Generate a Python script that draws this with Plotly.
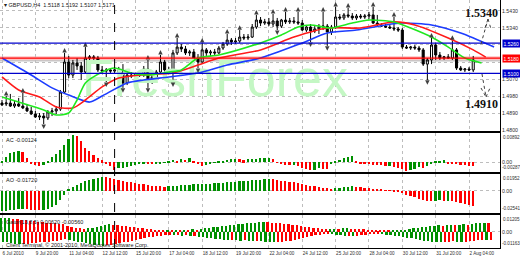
import plotly.graph_objects as go

# ---------------- data ----------------
symbol = "GBPUSD,H4"
date_labels = ["6 Jul 2010", "9 Jul 20:00", "11 Jul 04:00", "12 Jul 12:00", "15 Jul 20:00",
               "17 Jul 04:00", "18 Jul 12:00", "19 Jul 20:00", "22 Jul 04:00", "24 Jul 12:00",
               "25 Jul 20:00", "28 Jul 04:00", "30 Jul 12:00", "31 Jul 20:00", "2 Aug 04:00"]
label_step = 8

opens = [1.4943,1.4938,1.4943,1.4927,1.4938,1.4927,1.4917,1.4901,1.4885,1.4869,
1.4874,1.4864,1.4896,1.4901,1.4911,1.5001,1.5160,1.5091,1.5155,1.5139,
1.5107,1.5181,1.5187,1.5181,1.5118,1.5112,1.5118,1.5112,1.5118,1.5107,
1.5049,1.5091,1.5086,1.5097,1.5091,1.5123,1.5054,1.5081,1.5107,1.5160,
1.5118,1.5107,1.5208,1.5239,1.5229,1.5208,1.5213,1.5181,1.5160,1.5224,
1.5208,1.5213,1.5208,1.5234,1.5255,1.5276,1.5266,1.5271,1.5292,1.5287,
1.5292,1.5345,1.5382,1.5366,1.5372,1.5361,1.5377,1.5350,1.5382,1.5372,
1.5377,1.5372,1.5366,1.5329,1.5345,1.5324,1.5335,1.5345,1.5350,1.5319,
1.5345,1.5398,1.5393,1.5409,1.5403,1.5393,1.5403,1.5398,1.5403,1.5409,
1.5366,1.5356,1.5350,1.5345,1.5340,1.5335,1.5329,1.5239,1.5234,1.5239,
1.5234,1.5224,1.5149,1.5171,1.5250,1.5197,1.5181,1.5187,1.5181,1.5224,
1.5128,1.5118,1.5123,1.5118]
highs = [1.4959,1.4980,1.4991,1.4959,1.4970,1.4996,1.4938,1.4922,1.4901,1.4890,
1.4890,1.4906,1.4917,1.4927,1.5012,1.5208,1.5192,1.5171,1.5181,1.5160,
1.5239,1.5197,1.5197,1.5192,1.5139,1.5128,1.5128,1.5128,1.5134,1.5149,
1.5107,1.5107,1.5102,1.5112,1.5139,1.5171,1.5097,1.5118,1.5197,1.5171,
1.5134,1.5224,1.5287,1.5255,1.5245,1.5224,1.5229,1.5202,1.5261,1.5234,
1.5224,1.5229,1.5245,1.5266,1.5308,1.5287,1.5287,1.5329,1.5308,1.5308,
1.5361,1.5409,1.5398,1.5388,1.5393,1.5414,1.5393,1.5388,1.5425,1.5393,
1.5398,1.5425,1.5382,1.5356,1.5361,1.5350,1.5361,1.5425,1.5361,1.5356,
1.5451,1.5414,1.5419,1.5446,1.5419,1.5414,1.5414,1.5414,1.5425,1.5451,
1.5409,1.5366,1.5361,1.5356,1.5398,1.5345,1.5340,1.5250,1.5245,1.5250,
1.5245,1.5234,1.5181,1.5287,1.5261,1.5213,1.5192,1.5202,1.5276,1.5234,
1.5139,1.5128,1.5134,1.5192]
lows = [1.4927,1.4927,1.4922,1.4917,1.4922,1.4911,1.4896,1.4880,1.4864,1.4853,
1.4832,1.4853,1.4874,1.4885,1.4901,1.4991,1.5075,1.5075,1.5118,1.5065,
1.5097,1.5160,1.5171,1.5107,1.5102,1.5054,1.5102,1.5097,1.5102,1.5023,
1.5038,1.5075,1.5075,1.5081,1.5081,1.5023,1.5044,1.5070,1.5097,1.5102,
1.5097,1.5054,1.5197,1.5213,1.5197,1.5192,1.5171,1.5128,1.5155,1.5192,
1.5192,1.5197,1.5202,1.5224,1.5245,1.5250,1.5255,1.5261,1.5276,1.5276,
1.5287,1.5335,1.5350,1.5356,1.5350,1.5345,1.5329,1.5340,1.5361,1.5361,
1.5361,1.5356,1.5324,1.5319,1.5266,1.5313,1.5308,1.5329,1.5245,1.5303,
1.5335,1.5382,1.5382,1.5393,1.5382,1.5382,1.5388,1.5388,1.5388,1.5361,
1.5350,1.5345,1.5340,1.5335,1.5324,1.5319,1.5229,1.5229,1.5224,1.5224,
1.5213,1.5139,1.5065,1.5149,1.5171,1.5171,1.5171,1.5176,1.5171,1.5118,
1.5112,1.5107,1.5112,1.5107]
closes = [1.4933,1.4943,1.4927,1.4938,1.4927,1.4917,1.4901,1.4885,1.4869,1.4874,
1.4864,1.4896,1.4901,1.4911,1.5001,1.5160,1.5091,1.5155,1.5139,1.5107,
1.5181,1.5187,1.5181,1.5118,1.5112,1.5118,1.5112,1.5118,1.5107,1.5049,
1.5091,1.5086,1.5097,1.5091,1.5123,1.5054,1.5081,1.5107,1.5160,1.5118,
1.5107,1.5208,1.5239,1.5229,1.5208,1.5213,1.5181,1.5160,1.5224,1.5208,
1.5213,1.5208,1.5234,1.5255,1.5276,1.5266,1.5271,1.5292,1.5287,1.5292,
1.5345,1.5382,1.5366,1.5372,1.5361,1.5377,1.5350,1.5382,1.5372,1.5377,
1.5372,1.5366,1.5329,1.5345,1.5324,1.5335,1.5345,1.5350,1.5319,1.5345,
1.5398,1.5393,1.5409,1.5403,1.5393,1.5403,1.5398,1.5403,1.5409,1.5366,
1.5356,1.5350,1.5345,1.5340,1.5335,1.5329,1.5239,1.5234,1.5239,1.5234,
1.5224,1.5149,1.5171,1.5250,1.5197,1.5181,1.5187,1.5181,1.5224,1.5128,
1.5118,1.5123,1.5118,1.5171]

fractal_up = [1,5,15,20,35,38,42,48,54,57,61,65,68,71,77,80,83,89,94,103,108]
fractal_down = [10,25,29,35,41,47,66,74,78,102]

# Alligator lines (bar index, price)
jaw_idx = [0,7,12,16,21,24,30,34,40,47,54,62,72,78,85,92,96,103,110,118]
jaw_val = [1.5181,1.5091,1.5023,1.4985,1.4948,1.4980,1.5049,1.5065,1.5081,1.5102,
           1.5144,1.5181,1.5261,1.5313,1.5329,1.5356,1.5366,1.5356,1.5313,1.5239]
teeth_idx = [0,4,9,13,17,20,24,28,33,41,47,52,62,70,78,86,94,99,107,113,116]
teeth_val = [1.5081,1.5012,1.4975,1.4922,1.4917,1.4959,1.5028,1.5075,1.5091,1.5102,
             1.5144,1.5181,1.5224,1.5292,1.5340,1.5340,1.5372,1.5356,1.5287,1.5224,1.5186]
lips_idx = [0,4,10,13,16,18,20,24,27,31,35,40,43,47,52,62,67,71,74,79,84,88,94,98,103,107,111,115]
lips_val = [1.4975,1.4948,1.4906,1.4880,1.4890,1.4959,1.5049,1.5107,1.5128,1.5102,
            1.5091,1.5107,1.5118,1.5181,1.5197,1.5261,1.5303,1.5345,1.5356,1.5340,
            1.5366,1.5382,1.5372,1.5340,1.5292,1.5239,1.5181,1.5155]

levels = [1.5260, 1.5180, 1.5100]
level_colors = ["#0000cc", "#ff0000", "#0000cc"]
targets = [1.5340, 1.4910]

price_ticks = [1.5430, 1.5340, 1.5250, 1.5160, 1.5070, 1.4980, 1.4890, 1.4800]

ac_vals = [0.0003,0.0018,0.0029,0.0031,0.0034,0.0031,0.0013,-0.0004,-0.0007,-0.0010,
 -0.0007,0.0003,0.0018,0.0026,0.0039,0.0054,0.0070,0.0082,0.0081,0.0065,
 0.0045,0.0034,0.0024,0.0013,0.0006,-0.0005,-0.0012,-0.0023,-0.0018,-0.0017,
 -0.0015,-0.0012,-0.0009,-0.0005,-0.0002,-0.0005,-0.0006,-0.0003,-0.0002,-0.0001,
 0.0003,0.0007,0.0005,0.0011,0.0008,0.0012,0.0003,-0.0004,-0.0010,-0.0007,
 -0.0003,-0.0001,0.0003,0.0005,0.0008,0.0009,0.0010,0.0009,0.0006,0.0009,
 0.0010,0.0011,0.0012,0.0013,0.0014,0.0010,-0.0001,-0.0005,-0.0008,-0.0009,
 -0.0008,-0.0012,-0.0017,-0.0021,-0.0023,-0.0022,-0.0018,-0.0020,-0.0021,-0.0006,
 0.0004,0.0008,0.0012,0.0018,0.0020,0.0004,-0.0003,-0.0005,-0.0006,-0.0007,
 -0.0008,-0.0009,-0.0011,-0.0010,-0.0013,-0.0016,-0.0020,-0.0025,-0.0023,-0.0019,
 -0.0014,-0.0018,-0.0010,-0.0003,0.0002,0.0004,0.0006,-0.0003,-0.0005,-0.0006,
 -0.0008,-0.0009,-0.0010,-0.00124]
ac_ticks = [0.00892, 0.0, -0.00287]

ao_vals = [-0.0235,-0.0230,-0.0222,-0.0215,-0.0210,-0.0208,-0.0212,-0.0218,-0.0222,-0.0224,
 -0.0218,-0.0210,-0.0190,-0.0160,-0.0110,-0.0045,0.0015,0.0040,0.0065,0.0090,
 0.0110,0.0128,0.0142,0.0152,0.0160,0.0158,0.0150,0.0140,0.0128,0.0118,
 0.0108,0.0098,0.0090,0.0082,0.0075,0.0068,0.0062,0.0057,0.0053,0.0050,
 0.0052,0.0058,0.0062,0.0066,0.0070,0.0073,0.0076,0.0078,0.0080,0.0083,
 0.0085,0.0088,0.0092,0.0096,0.0100,0.0104,0.0108,0.0112,0.0115,0.0118,
 0.0122,0.0126,0.0130,0.0134,0.0137,0.0135,0.0128,0.0120,0.0112,0.0105,
 0.0098,0.0090,0.0082,0.0072,0.0062,0.0052,0.0043,0.0035,0.0030,0.0026,
 0.0030,0.0036,0.0042,0.0048,0.0052,0.0048,0.0043,0.0038,0.0033,0.0028,
 0.0022,0.0016,0.0010,0.0004,-0.0004,-0.0014,-0.0028,-0.0045,-0.0060,-0.0075,
 -0.0090,-0.0105,-0.0112,-0.0115,-0.0113,-0.0110,-0.0114,-0.0112,-0.0115,-0.0125,
 -0.0140,-0.0155,-0.0165,-0.0172]
ao_ticks = [0.01952, 0.0, -0.02541]

gator_upper_pips = [98,98,98,95,91,88,84,81,77,74,
70,67,63,60,56,53,42,35,28,25,
21,25,28,35,42,49,53,49,46,42,
39,35,32,28,25,21,18,14,13,11,
13,11,14,13,15,14,18,15,21,25,
28,32,35,39,42,46,49,53,56,60,
63,67,70,74,70,67,63,60,56,53,
49,46,39,35,32,28,25,21,18,20,
22,21,24,25,23,21,19,17,15,13,
11,8,7,6,7,9,12,15,20,24,
28,32,36,41,43,46,43,48,50,48,
51,55,52,56,60,63,66,62]
gator_lower_pips = [70,77,84,88,91,90,88,84,81,77,
74,70,67,63,56,49,56,63,70,77,
84,91,95,98,102,98,95,91,84,77,
70,63,56,49,42,39,35,32,28,25,
21,25,21,28,25,32,28,35,39,42,
46,49,53,56,60,56,60,63,60,63,
67,63,67,70,74,77,74,70,67,63,
56,49,42,35,28,25,21,18,14,18,
21,25,28,27,29,27,24,21,18,15,
14,17,20,22,27,32,36,42,48,53,
57,63,67,71,76,77,74,70,67,70,
74,70,67,63,60,56,60,56]
gator_ticks = [0.01205, 0.0, -0.01163]

# ---------------- styling helpers ----------------
GREEN = "#009000"
RED = "#ff0000"
FONT = "Liberation Sans, Arial, sans-serif"

def trend_colors(vals, use_abs=False):
    out = []
    for k, v in enumerate(vals):
        a = abs(v) if use_abs else v
        p = (abs(vals[k - 1]) if use_abs else vals[k - 1]) if k > 0 else None
        out.append(GREEN if (p is None or a >= p) else RED)
    return out

N = len(closes)
idx = list(range(N))
x_range = [-0.48, 119.42]
main_range = [1.4795, 1.5488]

gator_upper = [p * 1e-4 for p in gator_upper_pips]
gator_lower = [-p * 1e-4 for p in gator_lower_pips]
gidx = list(range(len(gator_upper)))

fig = go.Figure()

# watermark (behind everything)
fig.add_trace(go.Scatter(
    x=[x_range[0] + 0.43 * (x_range[1] - x_range[0])],
    y=[main_range[0] + 0.37 * (main_range[1] - main_range[0])],
    mode="text", text=["FreshForex"],
    textfont=dict(size=52, color="#c4f7c4", family=FONT),
    hoverinfo="skip", showlegend=False, xaxis="x", yaxis="y"))

# alligator
for xs, ys, col in [(jaw_idx, jaw_val, "#1c3cff"), (teeth_idx, teeth_val, "#ff1a1a"), (lips_idx, lips_val, "#1fe81f")]:
    fig.add_trace(go.Scatter(x=xs, y=ys, mode="lines",
                             line=dict(color=col, width=1.6, shape="spline", smoothing=0.7),
                             hoverinfo="skip", showlegend=False, xaxis="x", yaxis="y"))

# candles
fig.add_trace(go.Candlestick(
    x=idx, open=opens, high=highs, low=lows, close=closes,
    increasing=dict(line=dict(color="black", width=1), fillcolor="white"),
    decreasing=dict(line=dict(color="black", width=1), fillcolor="black"),
    whiskerwidth=0, showlegend=False, xaxis="x", yaxis="y"))

# fractals
frac_offset = 0.0026
fig.add_trace(go.Scatter(
    x=fractal_up, y=[highs[i] + frac_offset for i in fractal_up], mode="markers",
    marker=dict(symbol="arrow-up", size=4.5, color="#404040"),
    showlegend=False, hoverinfo="skip", xaxis="x", yaxis="y"))
fig.add_trace(go.Scatter(
    x=fractal_down, y=[lows[i] - frac_offset for i in fractal_down], mode="markers",
    marker=dict(symbol="arrow-down", size=4.5, color="#404040"),
    showlegend=False, hoverinfo="skip", xaxis="x", yaxis="y"))

# AC
fig.add_trace(go.Bar(x=idx, y=ac_vals, marker=dict(color=trend_colors(ac_vals), line=dict(width=0)),
                     width=0.42, showlegend=False, xaxis="x2", yaxis="y2"))
# AO
fig.add_trace(go.Bar(x=idx, y=ao_vals, marker=dict(color=trend_colors(ao_vals), line=dict(width=0)),
                     width=0.42, showlegend=False, xaxis="x3", yaxis="y3"))
# Gator
fig.add_trace(go.Bar(x=gidx, y=gator_upper, marker=dict(color=trend_colors(gator_upper), line=dict(width=0)),
                     width=0.42, showlegend=False, xaxis="x4", yaxis="y4"))
fig.add_trace(go.Bar(x=gidx, y=gator_lower, marker=dict(color=trend_colors(gator_lower, True), line=dict(width=0)),
                     width=0.42, showlegend=False, xaxis="x4", yaxis="y4"))

# ---------------- axes ----------------
tick_font = dict(size=5.2, color="#303030", family=FONT)
small_font = dict(size=4.6, color="#303030", family=FONT)
xtickvals = [k * label_step for k in range(len(date_labels))]

def xaxis(anchor, show_labels):
    return dict(range=x_range, anchor=anchor, domain=[0, 1],
                tickvals=xtickvals, ticktext=date_labels, tickangle=0,
                showticklabels=show_labels, ticks="",
                showgrid=True, gridcolor="#bdbdbd", griddash="dot", gridwidth=1,
                showline=True, mirror=True, linecolor="#000000", linewidth=1,
                zeroline=False, tickfont=dict(size=4.6, color="#303030", family=FONT),
                ticklabelposition="outside right", rangeslider=dict(visible=False),
                fixedrange=True)

def yaxis(anchor, domain, rng, tvals, ttext):
    return dict(range=rng, anchor=anchor, domain=domain, side="right",
                tickvals=tvals, ticktext=ttext, ticks="",
                showgrid=True, gridcolor="#bdbdbd", griddash="dot", gridwidth=1,
                showline=True, linecolor="#000000", linewidth=1, zeroline=False,
                tickfont=tick_font, fixedrange=True)

fmt5 = lambda v: "0.00" if v == 0 else f"{v:.5f}"
# labels hidden behind the level boxes
price_text = ["" if any(abs(v - lv) < 0.0025 for lv in levels[:2]) else f"{v:.4f}" for v in price_ticks]

fig.update_layout(
    width=520, height=260, margin=dict(l=0, r=20, t=0, b=12),
    paper_bgcolor="white", plot_bgcolor="white", bargap=0,
    font=dict(family=FONT),
    xaxis=xaxis("y", False), xaxis2=xaxis("y2", False),
    xaxis3=xaxis("y3", False), xaxis4=xaxis("y4", True),
    yaxis=yaxis("x", [0.4718, 1.0], main_range, price_ticks, price_text),
    yaxis2=yaxis("x2", [0.3065, 0.4637], [-0.00292, 0.00896], [0.0], ["0.00"]),
    yaxis3=yaxis("x3", [0.1411, 0.2984], [-0.02548, 0.01958], [0.0], ["0.00"]),
    yaxis4=yaxis("x4", [0.0, 0.1331], [-0.01168, 0.01210], [0.0], ["0.00"]),
)

# ---------------- shapes ----------------
shapes = []
shapes.append(dict(type="line", xref="x domain", yref="y", x0=0, x1=1, y0=levels[1], y1=levels[1],
                   line=dict(color="rgba(255,120,120,0.45)", width=4), layer="below"))
shapes.append(dict(type="line", xref="x domain", yref="y", x0=0, x1=1, y0=closes[-1] - 0.0005, y1=closes[-1] - 0.0005,
                   line=dict(color="#b0b0b0", width=1), layer="below"))
for lv, col in zip(levels, level_colors):
    shapes.append(dict(type="line", xref="x domain", yref="y", x0=0, x1=1, y0=lv, y1=lv,
                       line=dict(color=col, width=1.3)))
shapes.append(dict(type="line", xref="x", yref="paper", x0=27, x1=27, y0=0, y1=1,
                   line=dict(color="black", width=1, dash="dash")))
def pp(px, py):
    return px / 500.0, 1 - py / 248.0
for (a, b) in [((481, 44), (488, 19)), ((485, 28), (488, 19)), ((488, 19), (491, 29)),
               ((482, 74), (486, 97)), ((481, 88), (486, 97)), ((486, 97), (490, 88))]:
    x0, y0 = pp(*a); x1, y1 = pp(*b)
    shapes.append(dict(type="line", xref="paper", yref="paper", x0=x0, y0=y0, x1=x1, y1=y1,
                       line=dict(color="#404040", width=1, dash="dot")))
fig.update_layout(shapes=shapes)

# ---------------- annotations ----------------
ann = []
ann.append(dict(xref="paper", yref="paper", x=0.004, y=1 - 5 / 248.0, xanchor="left", yanchor="middle",
                text=f"▾ {symbol}  {opens[-1]:.4f} {highs[-1]:.4f} {lows[-1]:.4f} {closes[-1]:.4f}",
                showarrow=False, font=dict(size=5.5, color="#202020", family=FONT)))
for lv, col in zip(levels, level_colors):
    ann.append(dict(xref="paper", yref="y", x=1.0, y=lv, xanchor="left", yanchor="middle",
                    text=f"{lv:.4f}", showarrow=False, bgcolor=col, borderpad=0.5, xshift=2,
                    font=dict(size=5, color="white", family=FONT)))
# indicator panel max/min labels
for yr, tv in [("y2 domain", ac_ticks), ("y3 domain", ao_ticks), ("y4 domain", gator_ticks)]:
    ann.append(dict(xref="paper", yref=yr, x=1.0, y=1.0, xanchor="left", yanchor="top", xshift=1,
                    text=fmt5(tv[0]), showarrow=False, font=small_font))
    ann.append(dict(xref="paper", yref=yr, x=1.0, y=0.0, xanchor="left", yanchor="bottom", xshift=0,
                    text=fmt5(tv[2]), showarrow=False, font=small_font))
ann.append(dict(xref="paper", yref="paper", x=1.0, y=1 - 13 / 248.0, xanchor="right", yanchor="middle",
                text=f"<b>{targets[0]:.4f}</b>", showarrow=False,
                font=dict(size=12, color="#111111", family="Liberation Serif, DejaVu Serif, serif")))
ann.append(dict(xref="paper", yref="paper", x=1.0, y=1 - 104 / 248.0, xanchor="right", yanchor="middle",
                text=f"<b>{targets[1]:.4f}</b>", showarrow=False,
                font=dict(size=12, color="#111111", family="Liberation Serif, DejaVu Serif, serif")))
ann.append(dict(xref="paper", yref="y2 domain", x=0.008, y=0.82, xanchor="left", yanchor="middle",
                text=f"AC {ac_vals[-1]:.5f}", showarrow=False, font=dict(size=5.5, color="#202020", family=FONT)))
ann.append(dict(xref="paper", yref="y3 domain", x=0.008, y=0.85, xanchor="left", yanchor="middle",
                text=f"AO {ao_vals[-1]:.5f}", showarrow=False, font=dict(size=5.5, color="#202020", family=FONT)))
ann.append(dict(xref="paper", yref="y4 domain", x=0.008, y=0.80, xanchor="left", yanchor="middle",
                text=f"Gator(13,8,5) {gator_upper[-1]:.5f} {gator_lower[-1]:.5f}", showarrow=False,
                font=dict(size=5.5, color="#202020", family=FONT)))
ann.append(dict(xref="paper", yref="y4 domain", x=0.008, y=0.10, xanchor="left", yanchor="middle",
                text="Client Terminal, © 2001-2010, MetaQuotes Software Corp.", showarrow=False,
                font=dict(size=5.5, color="#202020", family=FONT)))
fig.update_layout(annotations=ann)

fig.write_html("out.html")
